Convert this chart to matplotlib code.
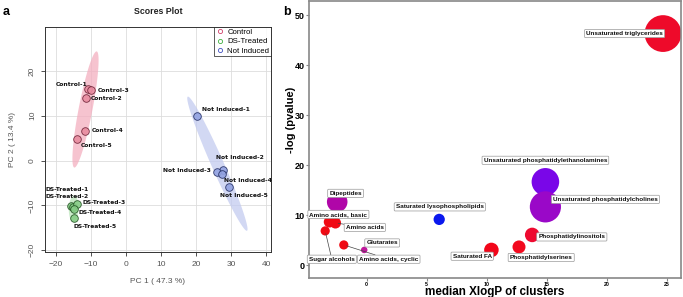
import numpy as np
import matplotlib
matplotlib.use("Agg")
import matplotlib.pyplot as plt
from matplotlib.lines import Line2D

plt.rcParams['font.family'] = ['Liberation Sans', 'DejaVu Sans']

# ---- panel a: PCA scores ----
groups = ["Control", "DS-Treated", "Not Induced"]
sample_names = {
    "Control": ["Control-1", "Control-2", "Control-3", "Control-4", "Control-5"],
    "DS-Treated": ["DS-Treated-1", "DS-Treated-2", "DS-Treated-3", "DS-Treated-4", "DS-Treated-5"],
    "Not Induced": ["Not Induced-1", "Not Induced-2", "Not Induced-3", "Not Induced-4", "Not Induced-5"],
}
pc1 = {
    "Control": [-10.8, -11.4, -9.9, -11.6, -14.0],
    "DS-Treated": [-15.7, -15.0, -14.1, -14.9, -14.9],
    "Not Induced": [20.2, 27.8, 25.9, 27.3, 29.3],
}
pc2 = {
    "Control": [15.9, 14.0, 15.7, 6.6, 4.8],
    "DS-Treated": [-10.1, -10.3, -9.8, -10.7, -12.8],
    "Not Induced": [9.9, -2.0, -2.5, -3.0, -5.9],
}

# ---- panel b: ChemRICH clusters ----
clusters = ["Unsaturated triglycerides", "Unsaturated phosphatidylethanolamines",
            "Unsaturated phosphatidylcholines", "Phosphatidylinositols",
            "Phosphatidylserines", "Saturated FA", "Saturated lysophospholipids",
            "Glutarates", "Amino acids, cyclic", "Sugar alcohols", "Amino acids",
            "Amino acids, basic", "Dipeptides"]
xlogp = [24.7, 14.9, 14.9, 13.8, 12.7, 10.4, 6.05, -0.2, -1.9, -3.45, -2.6, -3.1, -2.45]
neglogp = [46.3, 16.7, 11.7, 6.1, 3.7, 3.1, 9.2, 3.1, 4.1, 6.9, 8.5, 8.7, 12.7]
cluster_size = [32, 18, 23, 5, 4, 5, 3, 1, 2, 2, 3, 3, 10]

# styles
pt_fill = {"Control": "#E88CA0", "DS-Treated": "#86CC86", "Not Induced": "#93A3E2"}
pt_edge = {"Control": "#6B1F33", "DS-Treated": "#1F4F1F", "Not Induced": "#1F2A5F"}
ell_col = {"Control": "#F4AFC0", "DS-Treated": "#BDE6BD", "Not Induced": "#C3CBF0"}
leg_col = {"Control": "#D0406A", "DS-Treated": "#40B040", "Not Induced": "#4050C0"}
# label offsets in pixels (dx, dy, ha)
lab_off = {
    "Control": [(-1, 5, "right"), (5, -1, "left"), (6, 0, "left"), (6, 0, "left"), (4, -6, "left")],
    "DS-Treated": [(-25, 16, "left"), (-28, 10, "left"), (6, 2, "left"), (5, -4, "left"), (0, -9, "left")],
    "Not Induced": [(5, 7, "left"), (-7, 12, "left"), (-6, 1, "right"), (2, -6, "left"), (-9, -8, "left")],
}
bub_col = ["#EE0A2A", "#7A06E8", "#9A08C8", "#EE0A30", "#F20A1E", "#F2061A", "#0A18EE",
           "#C0189C", "#F00A14", "#F00A14", "#F00A14", "#F00A14", "#B006A8"]
bub_lab = [(21.5, 46.3), (14.9, 21.0), (19.9, 13.2), (17.1, 5.7), (14.55, 1.6), (8.8, 1.85),
           (6.1, 11.7), (1.3, 4.5), (1.85, 1.25), (-2.9, 1.25), (-0.15, 7.6), (-2.35, 10.2),
           (-1.75, 14.4)]
bub_line = [False, False, False, False, False, False, False, False, True, True, True, False, False]

fig = plt.figure(figsize=(6.83, 2.97), dpi=100)
ax = fig.add_axes([45 / 683, 45 / 297, 226 / 683, 225 / 297])

t = np.linspace(0, 2 * np.pi, 200)
for g in groups:
    xy = np.column_stack([pc1[g], pc2[g]])
    mu = xy.mean(axis=0)
    cov = np.cov(xy.T)
    vals, vecs = np.linalg.eigh(cov)
    r = np.sqrt(5.991 * vals)
    circ = np.column_stack([np.cos(t) * r[0], np.sin(t) * r[1]]) @ vecs.T + mu
    ax.fill(circ[:, 0], circ[:, 1], color=ell_col[g], alpha=0.75, lw=0, zorder=1)

for g in groups:
    ax.scatter(pc1[g], pc2[g], s=30, c=pt_fill[g], edgecolors=pt_edge[g], linewidths=0.6,
               alpha=0.9, zorder=3)
    for name, x, y, (dx, dy, ha) in zip(sample_names[g], pc1[g], pc2[g], lab_off[g]):
        ax.annotate(name, (x, y), xytext=(dx, dy), textcoords="offset pixels", ha=ha,
                    va="center", fontsize=4.3, fontweight="bold", family="DejaVu Sans",
                    color="#111111", zorder=4)

ax.set_xlim(-23.1, 41.4)
ax.set_ylim(-20.4, 29.8)
ax.set_xticks([-20, -10, 0, 10, 20, 30, 40])
ax.set_yticks([-20, -10, 0, 10, 20])
ax.grid(True, color="#DDDDDD", lw=0.6, zorder=0)
ax.set_axisbelow(True)
ax.tick_params(labelsize=6, colors="#333333", labelcolor="#555555", length=3, width=0.6)
plt.setp(ax.get_yticklabels(), rotation=90, va="center")
for s in ax.spines.values():
    s.set_color("#333333")
    s.set_linewidth(0.7)
ax.set_xlabel("PC 1 ( 47.3 %)", fontsize=6, color="#555555", labelpad=7)
ax.set_ylabel("PC 2 ( 13.4 %)", fontsize=6, color="#555555", labelpad=9)
ax.set_title("Scores Plot", fontsize=6.3, fontweight="bold", color="#222222", pad=9)

handles = [Line2D([], [], ls="", marker="o", mfc="none", mec=leg_col[g], ms=3, mew=0.6)
           for g in groups]
leg = ax.legend(handles, groups, loc="upper right", fontsize=5.6, frameon=True,
                fancybox=False, borderpad=0.2, handletextpad=0.3, labelspacing=0.25,
                handlelength=1.2, borderaxespad=0)
leg.get_frame().set_edgecolor("#111111")
leg.get_frame().set_linewidth(0.6)

# ---- panel b ----
bx = fig.add_axes([309 / 683, 19 / 297, 372 / 683, 277 / 297])
size_px = 3.25 * np.sqrt(np.array(cluster_size))
bx.scatter(xlogp, neglogp, s=(2 * size_px * 0.72) ** 2, c=bub_col, linewidths=0, zorder=2)
for name, x, y, (lx, ly), ln in zip(clusters, xlogp, neglogp, bub_lab, bub_line):
    bx.annotate(name, (x, y), xytext=(lx, ly), textcoords="data", ha="center", va="center",
                fontsize=4.6, fontweight="bold", color="#111111", zorder=5,
                bbox=dict(boxstyle="round,pad=0.25,rounding_size=0.15", fc="white",
                          ec="#999999", lw=0.5),
                arrowprops=dict(arrowstyle="-", color="#444444", lw=0.5,
                                shrinkA=0, shrinkB=2) if ln else None)

bx.set_xlim(-4.8, 26.2)
bx.set_ylim(-2.5, 52.8)
bx.set_xticks([0, 5, 10, 15, 20, 25])
bx.set_yticks([0, 10, 20, 30, 40, 50])
for s in bx.spines.values():
    s.set_color("#888888")
    s.set_linewidth(1.2)
bx.tick_params(axis="x", labelsize=3.8, length=2, color="#888888", pad=0.8)
bx.tick_params(axis="y", labelsize=6.5, length=2, color="#888888", pad=1)
for lab in bx.get_xticklabels() + bx.get_yticklabels():
    lab.set_fontweight("bold")
bx.set_xlabel("median XlogP of clusters", fontsize=8.4, fontweight="bold")
bx.xaxis.set_label_coords(0.5, -0.03)
bx.set_ylabel("-log (pvalue)", fontsize=8, fontweight="bold")
bx.yaxis.set_label_coords(-0.035, 0.57)

fig.text(3 / 683, 1 - 12 / 297, "a", fontsize=9, fontweight="bold", va="center")
fig.text(283 / 683, 1 - 12 / 297, "b", fontsize=9, fontweight="bold", va="center")

fig.savefig("out.png", dpi=100)
